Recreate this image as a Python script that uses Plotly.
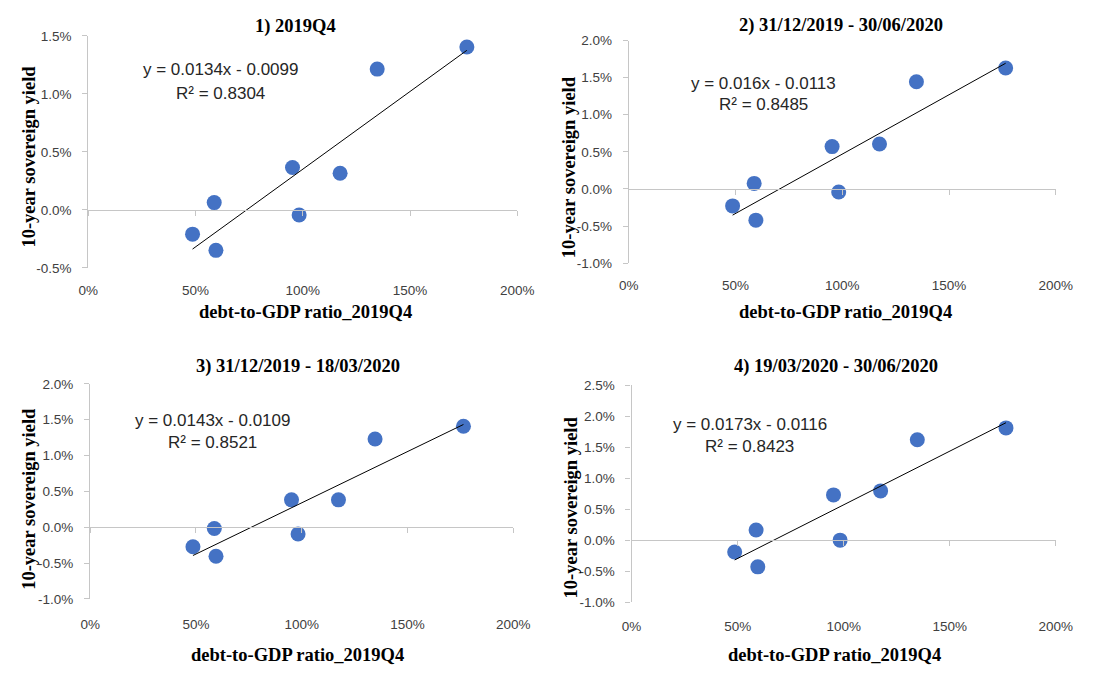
import plotly.graph_objects as go

# Debt-to-GDP ratio (2019Q4) for the eight countries, shared by every panel
debt_ratio = [0.486, 0.587, 0.595, 0.952, 0.983, 1.174, 1.347, 1.765]

# 10-year sovereign yields for each window
yield_2019q4 = [-0.0021, 0.00062, -0.0035, 0.00365, -0.00045, 0.00315, 0.01213, 0.01404]
yield_dec_jun = [-0.00228, 0.00075, -0.0042, 0.00571, -0.0004, 0.00606, 0.01445, 0.0163]
yield_dec_mar = [-0.00273, -0.00018, -0.00405, 0.00382, -0.00095, 0.00382, 0.01232, 0.0141]
yield_mar_jun = [-0.0019, 0.00163, -0.0043, 0.0073, 0.0, 0.00794, 0.0162, 0.0181]

panel_titles = ["1) 2019Q4", "2) 31/12/2019 - 30/06/2020",
                "3) 31/12/2019 - 18/03/2020", "4) 19/03/2020 - 30/06/2020"]

# Linear trendline fits (slope, intercept, R²) as reported on each panel
slopes = [0.0134, 0.016, 0.0143, 0.0173]
intercepts = [-0.0099, -0.0113, -0.0109, -0.0116]
slope_labels = ["0.0134", "0.016", "0.0143", "0.0173"]
intercept_labels = ["0.0099", "0.0113", "0.0109", "0.0116"]
r_squared = ["0.8304", "0.8485", "0.8521", "0.8423"]

x_tickvals = [0, 0.5, 1.0, 1.5, 2.0]
x_ticktext = ["0%", "50%", "100%", "150%", "200%"]

y_tickvals = [
    [-0.005, 0.0, 0.005, 0.01, 0.015],
    [-0.01, -0.005, 0.0, 0.005, 0.01, 0.015, 0.02],
    [-0.01, -0.005, 0.0, 0.005, 0.01, 0.015, 0.02],
    [-0.01, -0.005, 0.0, 0.005, 0.01, 0.015, 0.02, 0.025],
]
y_ticktext = [
    ["-0.5%", "0.0%", "0.5%", "1.0%", "1.5%"],
    ["-1.0%", "-0.5%", "0.0%", "0.5%", "1.0%", "1.5%", "2.0%"],
    ["-1.0%", "-0.5%", "0.0%", "0.5%", "1.0%", "1.5%", "2.0%"],
    ["-1.0%", "-0.5%", "0.0%", "0.5%", "1.0%", "1.5%", "2.0%", "2.5%"],
]

x_title = "debt-to-GDP ratio_2019Q4"
y_title = "10-year sovereign yield"

yields = [yield_2019q4, yield_dec_jun, yield_dec_mar, yield_mar_jun]

W, H = 1094, 675

# Plot-area boxes in pixels: (left, right, top, bottom)
boxes = [
    (80.3, 520.1, 29.5, 266.7),
    (634.5, 1072.3, 34.3, 262),
    (82.2, 515.9, 385.5, 605.3),
    (637.3, 1072.3, 386.7, 608.7),
]
# Gap between plot-area bottom and the percentage labels of the debt axis
xlabel_gap = [13, 12, 16, 14]
# Label placements in pixels
title_pos = [(293, 20), (852, 19), (295, 368), (847, 368)]
xtitle_pos = [(303, 312), (857, 312), (295, 663), (845, 663)]
ytitle_pos = [(19.5, 153), (574, 164), (19.5, 503), (575, 512)]
# Equation label centre within each plot area (domain fractions): x, y_eq, y_r2
eq_pos = [(0.307, 0.855, 0.753), (0.316, 0.807, 0.711),
          (0.290, 0.830, 0.729), (0.278, 0.817, 0.715)]

AXIS_GREY = "#c6c6c6"
TICK_FONT = dict(family="Liberation Sans, Arial, sans-serif", size=13.5, color="#404040")
TITLE_FONT = dict(family="Liberation Serif, Times New Roman, serif", size=18.5, color="#000000")
EQ_FONT = dict(family="Liberation Sans, Arial, sans-serif", size=17, color="#262626")

fig = go.Figure()
annotations = []

for i in range(4):
    sfx = "" if i == 0 else str(i + 1)
    xa, ya = "x" + sfx, "y" + sfx
    xa_zero = "x" + str(i + 5)          # overlay axis drawn through zero yield
    left, right, top, bottom = boxes[i]
    xdom = [left / W, right / W]
    ydom = [1 - bottom / H, 1 - top / H]
    ymin, ymax = y_tickvals[i][0], y_tickvals[i][-1]

    # Scatter points
    fig.add_trace(go.Scatter(
        x=debt_ratio, y=yields[i], mode="markers",
        marker=dict(color="#4472C4", size=15, line=dict(width=0)),
        xaxis=xa, yaxis=ya, showlegend=False, hoverinfo="x+y",
    ))

    # Linear trendline over the observed debt range (on the zero-crossing axis,
    # which shares the same [0, 2] range, so it sits above the markers)
    x0, x1 = min(debt_ratio), max(debt_ratio)
    fig.add_trace(go.Scatter(
        x=[x0, x1],
        y=[slopes[i] * x0 + intercepts[i], slopes[i] * x1 + intercepts[i]],
        mode="lines", line=dict(color="#000000", width=1),
        xaxis=xa_zero, yaxis=ya, showlegend=False, hoverinfo="skip",
    ))

    # Horizontal axis line and tick marks cross at zero yield
    zero_frac = (0 - ymin) / (ymax - ymin)
    zero_pos = ydom[0] + zero_frac * (ydom[1] - ydom[0])

    fig.update_layout(**{
        # labels along the bottom of the plot area
        ("xaxis" + sfx): dict(
            domain=xdom, range=[0, 2], anchor=ya,
            showline=False, ticks="",
            tickvals=x_tickvals, ticktext=x_ticktext, tickfont=TICK_FONT,
            ticklabelstandoff=xlabel_gap[i],
            showgrid=False, zeroline=False, fixedrange=True,
        ),
        ("xaxis" + str(i + 5)): dict(
            domain=xdom, range=[0, 2], overlaying=xa, anchor="free", position=zero_pos,
            showline=True, linecolor=AXIS_GREY, linewidth=1.3,
            ticks="outside", ticklen=5, tickcolor=AXIS_GREY, tickwidth=1.3,
            tickvals=x_tickvals, showticklabels=False,
            showgrid=False, zeroline=False, fixedrange=True,
        ),
        ("yaxis" + sfx): dict(
            domain=ydom, range=[ymin, ymax], anchor=xa,
            showline=True, linecolor=AXIS_GREY, linewidth=1.3,
            ticks="outside", ticklen=5, tickcolor=AXIS_GREY, tickwidth=1.3,
            tickvals=y_tickvals[i], ticktext=y_ticktext[i], tickfont=TICK_FONT,
            ticklabelstandoff=8,
            showgrid=False, zeroline=False, fixedrange=True,
        ),
    })

    # Panel title and axis titles
    tx, ty = title_pos[i]
    annotations.append(dict(text="<b>%s</b>" % panel_titles[i], x=tx / W, y=1 - ty / H,
                            xref="paper", yref="paper", showarrow=False,
                            xanchor="center", yanchor="middle", font=TITLE_FONT))
    tx, ty = xtitle_pos[i]
    annotations.append(dict(text="<b>%s</b>" % x_title, x=tx / W, y=1 - ty / H,
                            xref="paper", yref="paper", showarrow=False,
                            xanchor="center", yanchor="middle", font=TITLE_FONT))
    tx, ty = ytitle_pos[i]
    annotations.append(dict(text="<b>%s</b>" % y_title, x=tx / W, y=1 - ty / H,
                            xref="paper", yref="paper", showarrow=False, textangle=-90,
                            xanchor="center", yanchor="middle", font=TITLE_FONT))

    # Trendline equation and R²
    ex, ey, ry = eq_pos[i]
    annotations.append(dict(text="y = %sx - %s" % (slope_labels[i], intercept_labels[i]),
                            x=ex, y=ey, xref=xa + " domain", yref=ya + " domain",
                            showarrow=False, xanchor="center", yanchor="middle", font=EQ_FONT))
    annotations.append(dict(text="R² = %s" % r_squared[i],
                            x=ex, y=ry, xref=xa + " domain", yref=ya + " domain",
                            showarrow=False, xanchor="center", yanchor="middle", font=EQ_FONT))

fig.update_layout(
    width=W, height=H,
    margin=dict(l=0, r=0, t=0, b=0),
    paper_bgcolor="#ffffff", plot_bgcolor="#ffffff",
    annotations=annotations, showlegend=False,
)

# Let the figure fill the page edge to edge
page_style = ("document.body.style.margin='0';"
              "document.body.style.padding='0';"
              "document.body.style.overflow='hidden';")

fig.write_html("out.html", config={"displayModeBar": False}, post_script=page_style)
